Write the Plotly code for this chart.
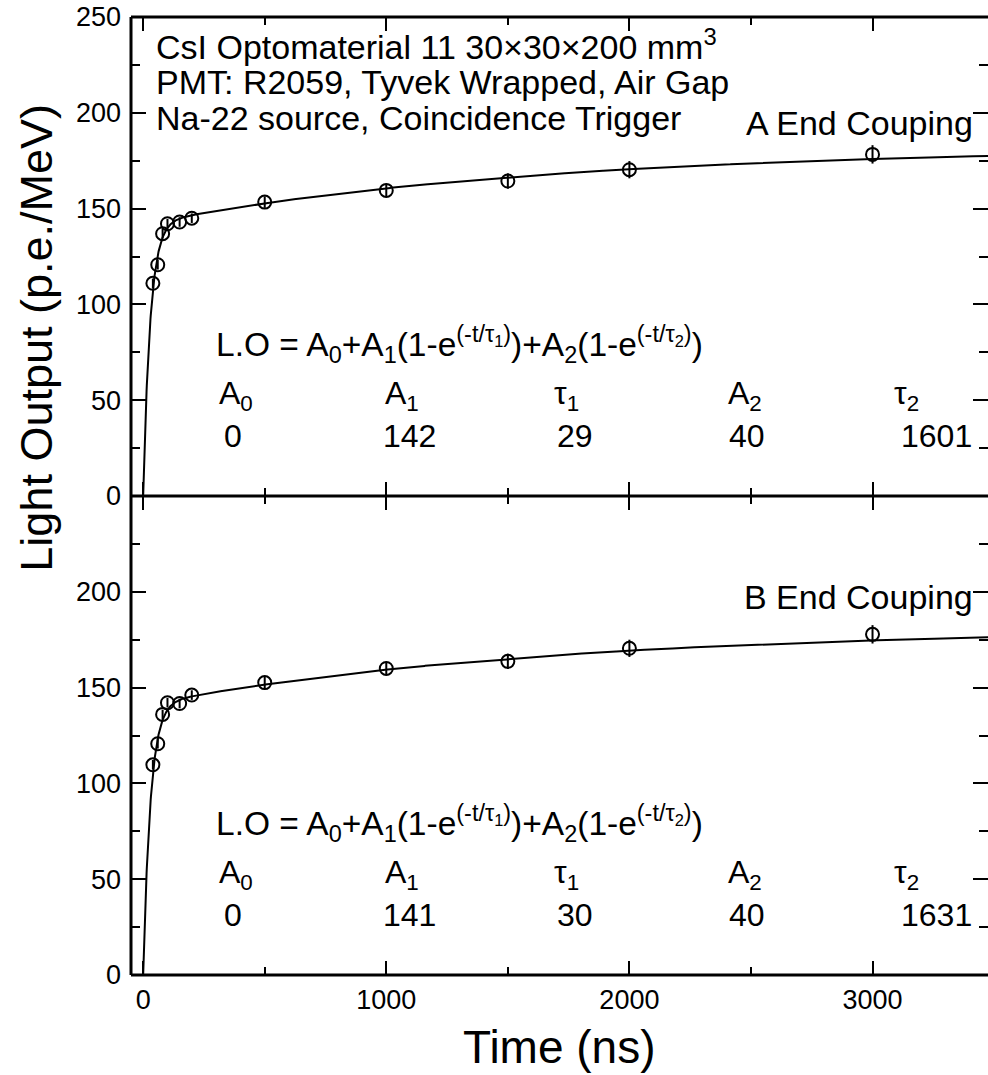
import numpy as np
import plotly.graph_objects as go

# ---------------- data ----------------
time_ns = [40, 60, 80, 100, 150, 200, 500, 1000, 1500, 2000, 3000]
lo_a = [111.0, 120.7, 136.9, 142.1, 143.0, 145.0, 153.4, 159.5, 164.4, 170.3, 178.3]
err_a = [2.5, 2.5, 2.5, 2.5, 2.5, 2.5, 3.0, 3.5, 4.0, 4.5, 4.8]
lo_b = [109.7, 120.7, 136.0, 142.1, 141.7, 146.1, 152.6, 160.0, 163.7, 170.5, 177.8]
err_b = [2.5, 2.5, 2.5, 2.5, 2.5, 2.5, 3.0, 3.5, 4.0, 4.5, 4.8]

# fit parameters [A0, A1, tau1, A2, tau2]
param_names = ["A<sub>0</sub>", "A<sub>1</sub>", "τ<sub>1</sub>", "A<sub>2</sub>", "τ<sub>2</sub>"]
fit_a = [0, 142, 29, 40, 1601]
fit_b = [0, 141, 30, 40, 1631]

panel_labels = ["A End Couping", "B End Couping"]
header_lines = ["CsI Optomaterial 11 30×30×200 mm<sup>3</sup>",
                "PMT: R2059, Tyvek Wrapped, Air Gap",
                "Na-22 source, Coincidence Trigger"]
formula = ("L.O = A<sub>0</sub>+A<sub>1</sub>(1-e<sup>(-t/τ<sub>1</sub>)</sup>)"
           "+A<sub>2</sub>(1-e<sup>(-t/τ<sub>2</sub>)</sup>)")

x_range = [-50, 3475]
x_major = [0, 1000, 2000, 3000]
x_minor = [500, 1500, 2500]
y_major_top = [0, 50, 100, 150, 200, 250]
y_major_bot = [0, 50, 100, 150, 200, 250]
y_labels_top = ["0", "50", "100", "150", "200", "250"]
y_labels_bot = ["0", "50", "100", "150", "200", ""]
y_minor = [25, 75, 125, 175, 225]

x_title = "Time (ns)"
y_title = "Light Output (p.e./MeV)"


def fit_curve(p, t):
    a0, a1, t1, a2, t2 = p
    return a0 + a1 * (1 - np.exp(-t / t1)) + a2 * (1 - np.exp(-t / t2))


t_fit = np.linspace(0, 3500, 3501)

FONT = "Liberation Sans, Arial, sans-serif"
fig = go.Figure()

for lo, err, p, xa, ya in [(lo_a, err_a, fit_a, "x", "y"), (lo_b, err_b, fit_b, "x2", "y2")]:
    fig.add_trace(go.Scatter(x=t_fit, y=fit_curve(p, t_fit), mode="lines",
                             line=dict(color="black", width=2), xaxis=xa, yaxis=ya,
                             showlegend=False, hoverinfo="skip"))
    fig.add_trace(go.Scatter(x=time_ns, y=lo, mode="markers",
                             marker=dict(symbol="circle-open", size=13, color="black",
                                         line=dict(width=2, color="black")),
                             error_y=dict(type="data", array=err, width=0, thickness=2, color="black"),
                             xaxis=xa, yaxis=ya, showlegend=False))

xcommon = dict(range=x_range, tickmode="array", tickvals=x_major, ticks="inside", ticklen=14,
               tickwidth=2, tickcolor="black", mirror="ticks", showline=False, showgrid=False,
               zeroline=False,
               minor=dict(tickmode="array", tickvals=x_minor, ticks="inside", ticklen=8,
                          tickwidth=2, tickcolor="black"),
               tickfont=dict(family=FONT, size=27, color="black"))
ycommon = dict(range=[0, 250], tickmode="array", ticks="inside", ticklen=15, tickwidth=2,
               tickcolor="black", mirror="ticks", showline=False, showgrid=False, zeroline=False,
               minor=dict(tickmode="array", tickvals=y_minor, ticks="inside", ticklen=9,
                          tickwidth=2, tickcolor="black"),
               tickfont=dict(family=FONT, size=27, color="black"), ticklabelstandoff=9)

fig.update_layout(
    width=988, height=1075,
    margin=dict(l=131, r=0, t=17, b=100),
    paper_bgcolor="white", plot_bgcolor="white",
    font=dict(family=FONT, color="black"),
    xaxis=dict(domain=[0, 1], anchor="y", showticklabels=False, **xcommon),
    xaxis2=dict(domain=[0, 1], anchor="y2", matches="x", showticklabels=True,
                ticklabelstandoff=6, **xcommon),
    yaxis=dict(domain=[0.5, 1], anchor="x", tickvals=y_major_top, ticktext=y_labels_top, **ycommon),
    yaxis2=dict(domain=[0, 0.5], anchor="x2", tickvals=y_major_bot, ticktext=y_labels_bot, **ycommon),
)

# frame lines
shapes = []
for (x0, x1, y0, y1) in [(0, 0, 0, 1), (0, 1, 1, 1), (0, 1, 0.5, 0.5), (0, 1, 0, 0)]:
    shapes.append(dict(type="line", xref="paper", yref="paper", x0=x0, x1=x1, y0=y0, y1=y1,
                       line=dict(color="black", width=3), layer="above"))
fig.update_layout(shapes=shapes)

ann = []
# header text (top panel)
for txt, yv in zip(header_lines, [235.4, 216.0, 197.2]):
    ann.append(dict(x=45, y=yv, xref="x", yref="y", text=txt, showarrow=False,
                    xanchor="left", yanchor="middle", font=dict(size=34, family=FONT)))

label_x = [305, 985, 1680, 2397, 3080]
value_x = [326, 980, 1696, 2401, 3110]
for label, p, xr, yr, ly in [(panel_labels[0], fit_a, "x", "y", 194.6),
                             (panel_labels[1], fit_b, "x2", "y2", 197.2)]:
    ann.append(dict(x=3421, y=ly, xref=xr, yref=yr, text=label, showarrow=False,
                    xanchor="right", yanchor="middle", font=dict(size=34, family=FONT)))
    ann.append(dict(x=290, y=79, xref=xr, yref=yr, text=formula, showarrow=False,
                    xanchor="left", yanchor="middle", font=dict(size=33.5, family=FONT)))
    for nm, val, lx, vx in zip(param_names, p, label_x, value_x):
        ann.append(dict(x=lx, y=52.3, xref=xr, yref=yr, text=nm, showarrow=False,
                        xanchor="left", yanchor="middle", font=dict(size=32, family=FONT)))
        ann.append(dict(x=vx, y=31.4, xref=xr, yref=yr, text=str(val), showarrow=False,
                        xanchor="left", yanchor="middle", font=dict(size=32, family=FONT)))

# axis titles
ann.append(dict(x=-0.110, y=0.665, xref="paper", yref="paper", text=y_title, textangle=-90,
                showarrow=False, xanchor="center", yanchor="middle", font=dict(size=45, family=FONT)))
ann.append(dict(x=0.5, y=-0.075, xref="paper", yref="paper", text=x_title,
                showarrow=False, xanchor="center", yanchor="middle", font=dict(size=46, family=FONT)))
fig.update_layout(annotations=ann)

fig.write_html("out.html", config={"displayModeBar": False},
               post_script="document.body.style.margin='0';")
